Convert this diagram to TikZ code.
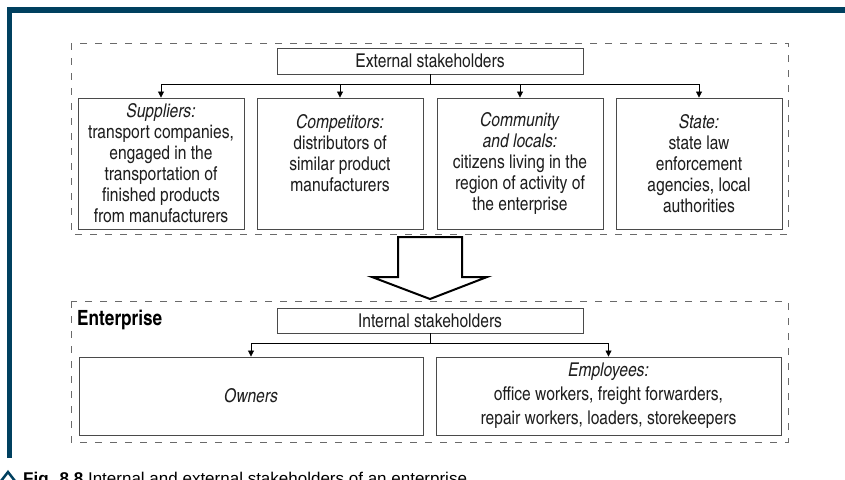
\documentclass[tikz,border=0pt]{standalone}
\usepackage{fontspec}
\setmainfont{TeX Gyre Heros Cn}
\newfontfamily\capfont{Liberation Sans}
\usetikzlibrary{arrows.meta}
\definecolor{navy}{HTML}{00405F}
\definecolor{boxgray}{HTML}{4A4A4A}
\definecolor{dashgray}{HTML}{6A6A6A}
\definecolor{txt}{HTML}{1E1E1E}
\begin{document}
\begin{tikzpicture}[x=1pt,y=-1pt,
  dashbox/.style={draw=dashgray,line width=0.9pt,dash pattern=on 7pt off 8pt},
  headbox/.style={draw=boxgray,line width=0.9pt,minimum width=306pt,minimum height=26pt,inner sep=0pt,
    font=\fontsize{19}{21}\selectfont,text=txt},
  stakebox/.style={draw=boxgray,line width=0.9pt,minimum width=166pt,minimum height=131pt,inner sep=0pt,
    align=center,font=\fontsize{19}{21}\selectfont,text=txt},
  wide/.style={draw=boxgray,line width=0.9pt,minimum width=344pt,minimum height=78pt,inner sep=0pt,
    align=center,font=\fontsize{19}{24}\selectfont,text=txt},
  conn/.style={draw=black,line width=0.8pt},
  arr/.style={conn,-{Triangle[length=6pt,width=6pt]}},
  bigarrow/.style={draw=black,line width=2pt,fill=white,line join=miter}
]
\useasboundingbox (0,0) rectangle (845,479);
% frame
\fill[navy] (7,7) rectangle (845,13);
\fill[navy] (7,7) rectangle (12,458);
% dashed regions
\draw[dashbox] (71,43) rectangle (788,234);
\draw[dashbox] (71,301) rectangle (788,442);
% external
\node[headbox] (ext) at (430,61) {External stakeholders};
\node[stakebox] (b1) at (161,163.5) {\textit{Suppliers:}\\transport companies,\\engaged in the\\transportation of\\finished products\\from manufacturers};
\node[stakebox] (b2) at (340,163.5) {};
\node[align=center,inner sep=0pt,font=\fontsize{19}{21}\selectfont,text=txt] (b2t) at (340,153) {\textit{Competitors:}\\distributors of\\similar product\\manufacturers};
\node[stakebox] (b3) at (520,163.5) {\textit{Community}\\\textit{and locals:}\\citizens living in the\\region of activity of\\the enterprise};
\node[stakebox] (b4) at (699,163.5) {\textit{State:}\\state law\\enforcement\\agencies, local\\authorities};
\coordinate (busA) at (430,84);
\draw[conn] (ext.south) -- (busA);
\draw[arr] (busA) -| (b1.north);
\draw[arr] (busA) -| (b2.north);
\draw[arr] (busA) -| (b3.north);
\draw[arr] (busA) -| (b4.north);
% big arrow
\draw[bigarrow] (398,237) -- (462,237) -- (462,277) -- (487,277) -- (430,299) -- (372,277) -- (398,277) -- cycle;
% internal
\node[anchor=west,inner sep=0pt,font=\fontsize{21}{21}\selectfont\bfseries,text=black] (ent) at (77,320) {Enterprise};
\node[headbox,minimum height=25pt] (int) at (430,320.5) {Internal stakeholders};
\node[wide] (own) at (251,396) {\textit{Owners}};
\node[wide,minimum width=345pt] (emp) at (608.5,396) {\textit{Employees:}\\office workers, freight forwarders,\\repair workers, loaders, storekeepers};
\coordinate (busB) at (430,343);
\draw[conn] (int.south) -- (busB);
\draw[arr] (busB) -| (own.north);
\draw[arr] (busB) -| (emp.north);
% caption (cut by the page edge, as in the reference)
\draw[navy,line width=2.5pt] (1,481) -- (8,472) -- (15,481);
\node[anchor=base west,inner sep=0pt,font=\capfont\fontsize{17}{19}\selectfont,text=black] (cap) at (23,484.5)
  {\textbf{Fig. 8.8} Internal and external stakeholders of an enterprise};
\end{tikzpicture}
\end{document}
